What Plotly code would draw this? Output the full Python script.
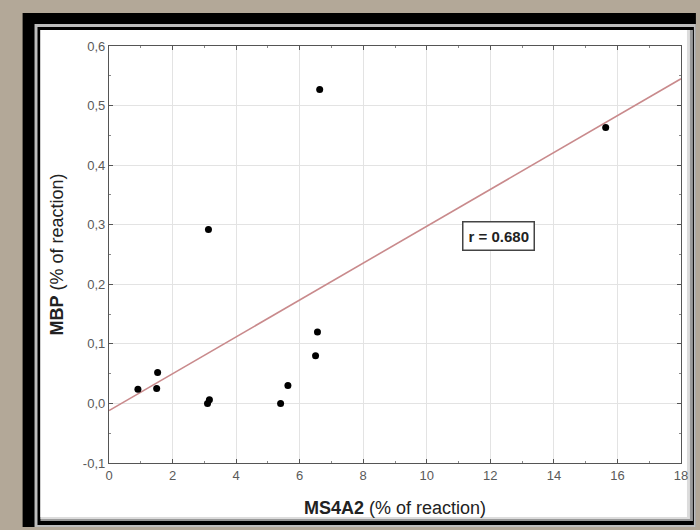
import plotly.graph_objects as go

# Data
ms4a2 = [0.91, 1.50, 1.53, 3.13, 3.10, 3.16, 5.40, 5.63, 6.50, 6.56, 6.63, 15.63]
mbp = [0.024, 0.025, 0.052, 0.292, 0.000, 0.006, 0.000, 0.030, 0.080, 0.120, 0.527, 0.463]

fit_x = [0, 18]
fit_y = [-0.012, 0.545]

x_ticks = [0, 2, 4, 6, 8, 10, 12, 14, 16, 18]
x_ticktext = ["0", "2", "4", "6", "8", "10", "12", "14", "16", "18"]
y_ticks = [-0.1, 0.0, 0.1, 0.2, 0.3, 0.4, 0.5, 0.6]
y_ticktext = ["-0,1", "0,0", "0,1", "0,2", "0,3", "0,4", "0,5", "0,6"]

r_label = "r = 0.680"

W, H = 700, 530
L, R, T, B = 109, 685, 46, 463


def px(x):
    return (x - L) / (R - L)


def py(y):
    return (B - y) / (B - T)


fig = go.Figure()
fig.add_trace(go.Scatter(x=fit_x, y=fit_y, mode="lines",
                         line=dict(color="#c98a8c", width=1.6),
                         hoverinfo="skip", showlegend=False))
fig.add_trace(go.Scatter(x=ms4a2, y=mbp, mode="markers",
                         marker=dict(color="black", size=7),
                         showlegend=False))

shapes = []


def rect(x0, y0, x1, y1, color):
    shapes.append(dict(type="rect", xref="paper", yref="paper",
                       x0=px(x0), x1=px(x1), y0=py(y1), y1=py(y0),
                       fillcolor=color, line=dict(width=0), layer="below"))


rect(22, 13, 700, 527, "black")
rect(34, 24, 700, 527, "#bdbdbd")
rect(37, 27, 698, 525, "black")
rect(40, 30, 697, 521, "#9a9a9a")
rect(40, 30, 694, 519, "#dcdcdc")
rect(40, 30, 691, 517, "white")

fig.update_layout(
    width=W, height=H,
    margin=dict(l=L, r=W - R, t=T, b=H - B),
    paper_bgcolor="#b3a898",
    plot_bgcolor="white",
    shapes=shapes,
    font=dict(family="Liberation Sans, Arial, sans-serif"),
    annotations=[dict(x=12.25, y=0.281, xref="x", yref="y", text="<b>" + r_label + "</b>",
                      showarrow=False, font=dict(size=15, color="#222"),
                      bgcolor="white", bordercolor="#444", borderwidth=1.5, borderpad=5)],
)

fig.update_xaxes(range=[0, 18], tickvals=x_ticks, ticktext=x_ticktext,
                 showgrid=True, gridcolor="#e3e3e3", gridwidth=1,
                 zeroline=False, showline=True, linecolor="#555", linewidth=1.3,
                 mirror="ticks", ticks="inside", ticklen=4, tickcolor="#555",
                 minor=dict(ticks="inside", ticklen=2, tickcolor="#888", dtick=1, showgrid=False),
                 tickfont=dict(size=13, color="#5a5a5a"),
                 title=dict(text="<b>MS4A2</b> (% of reaction)", font=dict(size=18, color="#222"),
                            standoff=19))
fig.update_yaxes(range=[-0.1, 0.6], tickvals=y_ticks, ticktext=y_ticktext,
                 showgrid=True, gridcolor="#e3e3e3", gridwidth=1,
                 zeroline=False, showline=True, linecolor="#555", linewidth=1.3,
                 mirror="ticks", ticks="inside", ticklen=4, tickcolor="#555",
                 minor=dict(ticks="inside", ticklen=2, tickcolor="#888", dtick=0.05, showgrid=False),
                 tickfont=dict(size=13, color="#5a5a5a"),
                 title=dict(text="<b>MBP</b> (% of reaction)", font=dict(size=18, color="#222"),
                            standoff=14))

fig.write_html("out.html", config={"displayModeBar": False},
               post_script="document.body.style.margin='0';document.body.style.overflow='hidden';")
